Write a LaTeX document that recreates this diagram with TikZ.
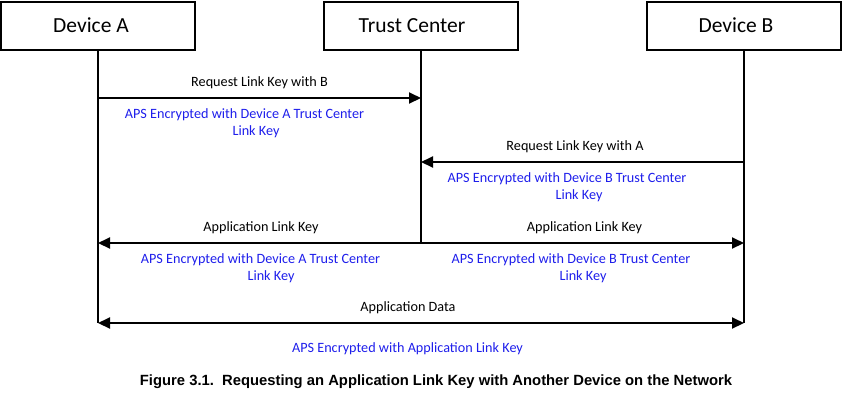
\documentclass[tikz,border=0pt]{standalone}
\usepackage{fontspec}
\setmainfont{Carlito}
\newfontfamily\capfont{Liberation Sans}
\usetikzlibrary{arrows.meta}
\definecolor{encblue}{RGB}{30,30,235}
\tikzset{
  actor/.style={draw=black, line width=2bp, rectangle, minimum width=194bp, minimum height=48bp, inner sep=0pt, font=\fontsize{21.5bp}{24bp}\selectfont},
  life/.style={draw=black, line width=2bp},
  msg/.style={draw=black, line width=2bp, -{Triangle[length=12bp,width=11bp]}},
  bimsg/.style={draw=black, line width=2bp, {Triangle[length=12bp,width=11bp]}-{Triangle[length=12bp,width=11bp]}},
  lbl/.style={anchor=base, inner sep=0pt, font=\fontsize{14.2bp}{17bp}\selectfont},
  actlbl/.style={anchor=base, inner sep=0pt, font=\fontsize{21.5bp}{24bp}\selectfont},
  enc/.style={lbl, text=encblue},
  figcap/.style={anchor=base, inner sep=0pt, font=\capfont\bfseries\fontsize{14.8bp}{17bp}\selectfont}
}
\begin{document}
\begin{tikzpicture}[x=1bp,y=-1bp]
\useasboundingbox (0,0) rectangle (842,400);
% actors
\node[actor] (devA) at (98,25.5) {};
\node[actor] (tc) at (421,25.5) {};
\node[actor] (devB) at (744,25.5) {};
\node[actlbl] (devAt) at (91,32.3) {Device A};
\node[actlbl] (tct) at (412,32.3) {Trust Center};
\node[actlbl] (devBt) at (736,32.3) {Device B};
% lifeline end points
\coordinate (aEnd) at (98,323);
\coordinate (tEnd) at (421,243);
\coordinate (bEnd) at (744,323);
\draw[life] (devA.south) -- (aEnd);
\draw[life] (tc.south) -- (tEnd);
\draw[life] (devB.south) -- (bEnd);
% message points
\coordinate (a1) at (98,98);
\coordinate (t1) at (421,98);
\coordinate (t2) at (421,162);
\coordinate (b2) at (744,162);
\coordinate (a3) at (98,243);
\coordinate (t3) at (421,243);
\coordinate (b3) at (744,243);
\coordinate (a4) at (98,323);
\coordinate (b4) at (744,323);
% messages
\draw[msg] (a1) -- (t1);
\draw[msg] (b2) -- (t2);
\draw[msg] (t3) -- (a3);
\draw[msg] (t3) -- (b3);
\draw[bimsg] (a4) -- (b4);
% labels
\node[lbl] (l1) at (259.5,86) {Request Link Key with B};
\node[enc] (e1a) at (244.5,118) {APS Encrypted with Device A Trust Center};
\node[enc] (e1b) at (256,135) {Link Key};
\node[lbl] (l2) at (575,150.7) {Request Link Key with A};
\node[enc] (e2a) at (567,182.7) {APS Encrypted with Device B Trust Center};
\node[enc] (e2b) at (579,199.5) {Link Key};
\node[lbl] (l3) at (261,231.7) {Application Link Key};
\node[enc] (e3a) at (260.5,263) {APS Encrypted with Device A Trust Center};
\node[enc] (e3b) at (271,280.5) {Link Key};
\node[lbl] (l4) at (584.5,231.7) {Application Link Key};
\node[enc] (e4a) at (571,263) {APS Encrypted with Device B Trust Center};
\node[enc] (e4b) at (583,280.5) {Link Key};
\node[lbl] (l5) at (408,311.7) {Application Data};
\node[enc] (e5) at (407.5,352.7) {APS Encrypted with Application Link Key};
\node[figcap] (caption) at (436,385.7) {Figure 3.1.\ \ Requesting an Application Link Key with Another Device on the Network};
\end{tikzpicture}
\end{document}
